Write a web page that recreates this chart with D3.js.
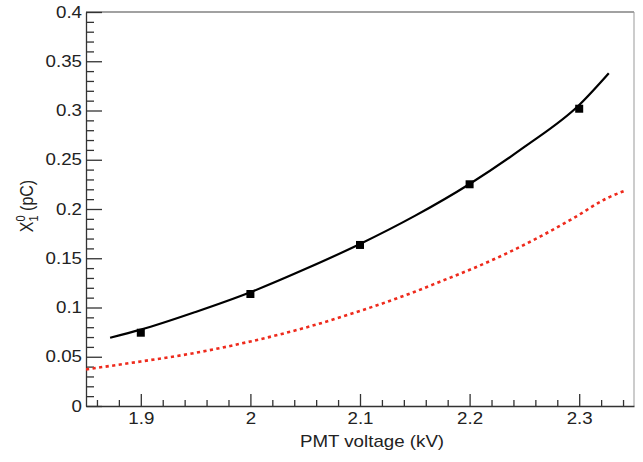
<!DOCTYPE html>
<html>
<head>
<meta charset="utf-8">
<script src="https://cdn.jsdelivr.net/npm/d3@7"></script>
<style>
  html, body { margin: 0; padding: 0; background: #fff; }
  svg { display: block; }
  text { font-family: "Liberation Sans", Arial, Helvetica, sans-serif; fill: #222; }
</style>
</head>
<body>
<svg id="chart" width="643" height="462"></svg>
<script>
// ---- data ----
const pointVoltage = [1.9, 2.0, 2.1, 2.2, 2.3];
const pointCharge  = [0.0744, 0.1137, 0.1635, 0.2251, 0.3018];

const fitVoltage = [1.872, 1.90, 1.95, 2.00, 2.05, 2.10, 2.15, 2.20, 2.25, 2.30, 2.327];
const fitCharge  = [0.0693, 0.0775, 0.0955, 0.1155, 0.1390, 0.1645, 0.1930, 0.2254, 0.2630, 0.3056, 0.3378];

const simVoltage = [1.85, 1.90, 1.95, 2.00, 2.05, 2.10, 2.15, 2.173, 2.2034, 2.2339, 2.2642, 2.2946, 2.3251, 2.3433];
const simCharge  = [0.0372, 0.0452, 0.0540, 0.0655, 0.0795, 0.0965, 0.1160, 0.1262, 0.1398, 0.1550, 0.1719, 0.1906, 0.2108, 0.2193];

const xMajorTicks = [1.9, 2.0, 2.1, 2.2, 2.3];
const xTickLabels = ["1.9", "2", "2.1", "2.2", "2.3"];
const yMajorTicks = [0, 0.05, 0.1, 0.15, 0.2, 0.25, 0.3, 0.35, 0.4];
const yTickLabels = ["0", "0.05", "0.1", "0.15", "0.2", "0.25", "0.3", "0.35", "0.4"];

// ---- layout ----
const L = 86, R = 634, T = 12, B = 406;
const SX = 1.17; // horizontal glyph stretch seen in the reference
const svg = d3.select("#chart");

const x = d3.scaleLinear().domain([1.85, 2.35]).range([L, R]);
const y = d3.scaleLinear().domain([0, 0.4]).range([B, T]);

const xMinor = d3.range(0, 26).map(i => +(1.86 + i * 0.02).toFixed(3)).filter(v => v < 2.35 && !xMajorTicks.some(m => Math.abs(m - v) < 1e-6));
const yMinor = d3.range(0, 41).map(i => +(i * 0.01).toFixed(3)).filter(v => !yMajorTicks.some(m => Math.abs(m - v) < 1e-6));

svg.append("defs").append("clipPath").attr("id", "plotclip")
  .append("rect").attr("x", L).attr("y", T).attr("width", R - L).attr("height", B - T);

// frame (top & right)
svg.append("line").attr("x1", L).attr("x2", R).attr("y1", T).attr("y2", T)
  .attr("stroke", "#444").attr("stroke-width", 1.2);
svg.append("line").attr("x1", R).attr("x2", R).attr("y1", T).attr("y2", B)
  .attr("stroke", "#999").attr("stroke-width", 1);

// x axis
const gx = svg.append("g").attr("transform", `translate(0,${B})`);
gx.call(d3.axisBottom(x).tickValues(xMajorTicks).tickFormat((d, i) => xTickLabels[i])
  .tickSizeInner(-12).tickSizeOuter(0).tickPadding(7));
const gxm = svg.append("g").attr("transform", `translate(0,${B})`);
gxm.call(d3.axisBottom(x).tickValues(xMinor).tickFormat("").tickSizeInner(-6).tickSizeOuter(0));
gxm.select(".domain").remove();

// y axis
const gy = svg.append("g").attr("transform", `translate(${L},0)`);
gy.call(d3.axisLeft(y).tickValues(yMajorTicks).tickFormat((d, i) => yTickLabels[i])
  .tickSizeInner(-16).tickSizeOuter(0).tickPadding(4));
const gym = svg.append("g").attr("transform", `translate(${L},0)`);
gym.call(d3.axisLeft(y).tickValues(yMinor).tickFormat("").tickSizeInner(-8).tickSizeOuter(0));
gym.select(".domain").remove();

svg.selectAll(".domain").attr("stroke", "#333").attr("stroke-width", 1.3);
svg.selectAll(".tick line").attr("stroke", "#333").attr("stroke-width", 1.3);
svg.selectAll(".tick text").attr("font-size", 16).attr("fill", "#222")
  .style("font-family", '"Liberation Sans", Arial, Helvetica, sans-serif')
  .each(function() {
    const t = d3.select(this);
    const x0 = +t.attr("x") || 0;
    t.attr("x", x0 / SX).attr("transform", `scale(${SX},1)`);
  });

// axis titles
svg.append("text").attr("transform", `translate(372,447) scale(${SX},1)`)
  .attr("text-anchor", "middle").attr("font-size", 16).text("PMT voltage (kV)");

const yt = svg.append("text").attr("transform", `translate(33,${(T + B) / 2 - 3}) rotate(-90) scale(1,${SX})`)
  .attr("text-anchor", "middle").attr("font-size", 16);
yt.append("tspan").text("X");
yt.append("tspan").attr("font-size", 11).attr("dy", -7).text("0");
yt.append("tspan").attr("font-size", 11).attr("dx", -6.1).attr("dy", 11).text("1");
yt.append("tspan").attr("dy", -4).text(" (pC)");

// curves
const line = d3.line().x(d => x(d[0])).y(d => y(d[1])).curve(d3.curveMonotoneX);
const plot = svg.append("g").attr("clip-path", "url(#plotclip)");

plot.append("path").datum(d3.zip(simVoltage, simCharge)).attr("d", line)
  .attr("fill", "none").attr("stroke", "#ee2a1c").attr("stroke-width", 2.6)
  .attr("stroke-dasharray", "3.2,3.4");

plot.append("path").datum(d3.zip(fitVoltage, fitCharge)).attr("d", line)
  .attr("fill", "none").attr("stroke", "#000").attr("stroke-width", 2.2);

// points
plot.selectAll("rect.pt").data(d3.zip(pointVoltage, pointCharge)).join("rect")
  .attr("class", "pt")
  .attr("x", d => x(d[0]) - 4).attr("y", d => y(d[1]) - 4)
  .attr("width", 8).attr("height", 8).attr("fill", "#000");
</script>
</body>
</html>
